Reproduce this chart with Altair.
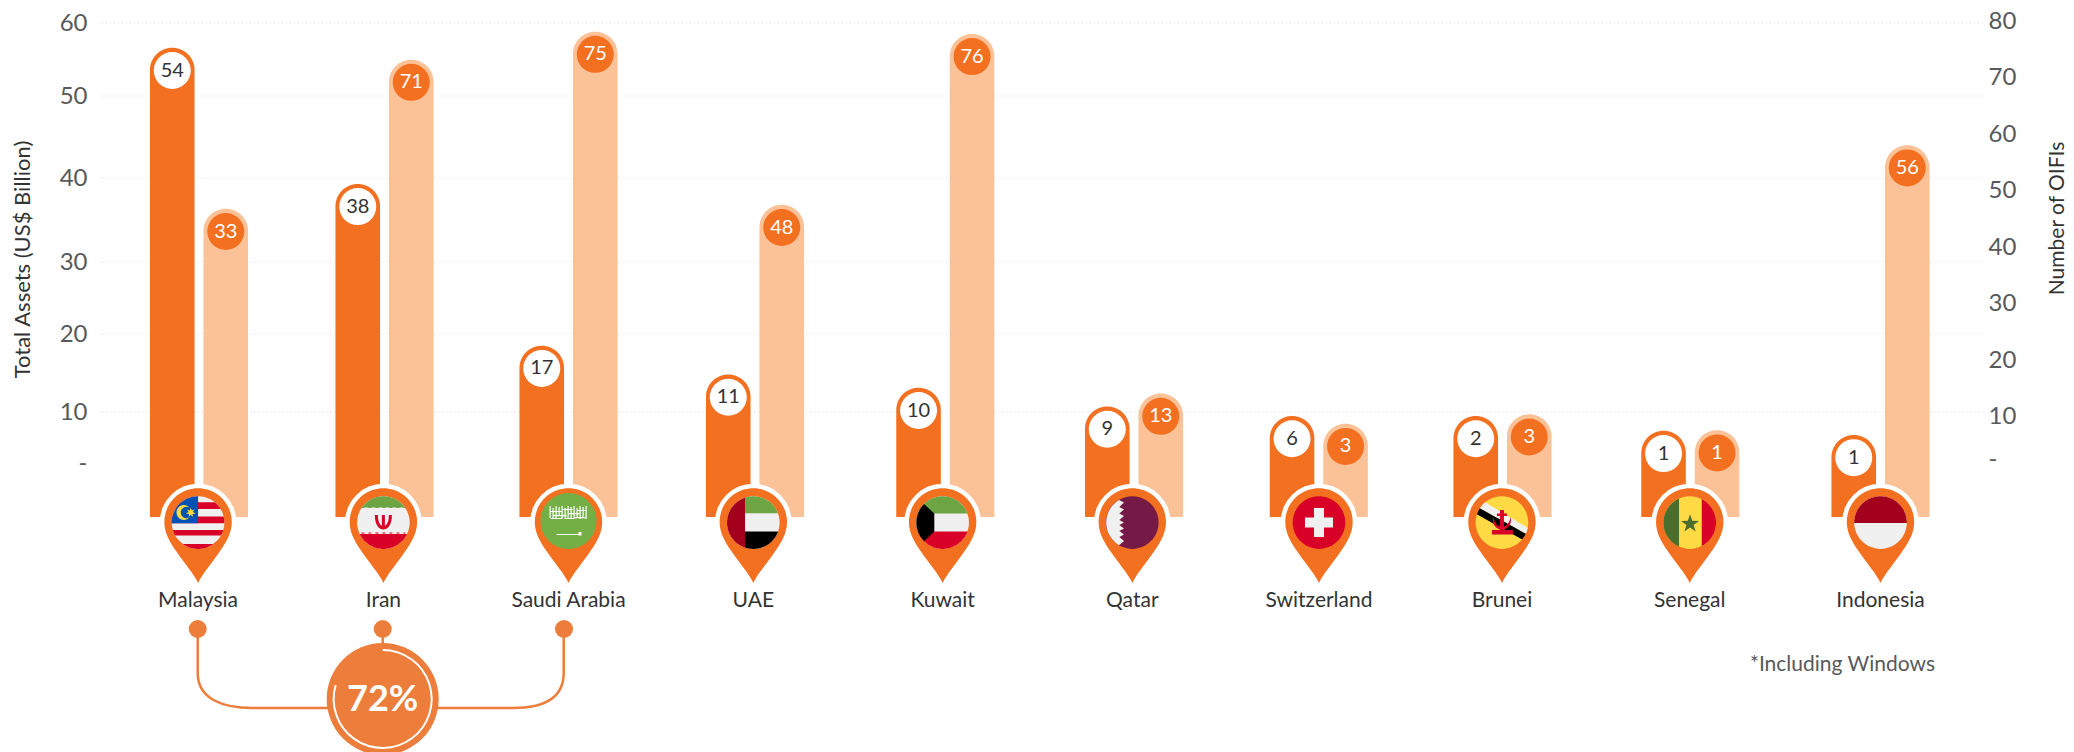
import math
import altair as alt
import pandas as pd

countries = ["Malaysia", "Iran", "Saudi Arabia", "UAE", "Kuwait", "Qatar", "Switzerland", "Brunei", "Senegal", "Indonesia"]
assets_labels = [54, 38, 17, 11, 10, 9, 6, 2, 1, 1]
oifi_labels = [33, 71, 75, 48, 76, 13, 3, 3, 1, 56]
# bar tops as read against the two drawn axes
assets_tops = [56.6, 39.3, 18.5, 14.8, 13.1, 10.7, 9.2, 9.2, 6.3, 5.5]
oifi_tops = [46.7, 73.1, 78.1, 47.4, 77.7, 14.0, 8.2, 10.3, 6.7, 58.0]
pin_nudge = [-0.005, -0.006, 0.0, -0.009, -0.014, -0.009, 0.001, -0.003, -0.003, 0.0]
left_ticks = [0, 10, 20, 30, 40, 50, 60]
right_ticks = [0, 10, 20, 30, 40, 50, 60, 70, 80]
grid_ticks = [10, 20, 30, 40, 50, 60]

ORANGE = "#F47021"
LIGHT = "#FBC197"
ACCENT = "#EC7D3A"
TEXT = "#58595B"
DARK = "#333333"
FONT = "Lato"
PLOT_LEFT, PLOT_TOP = 102, 23

left_scale = alt.Scale(domain=[-10.5] + left_ticks, range=[494, 440, 389, 311, 239, 155, 73, 0], nice=False, zero=False)
right_scale = alt.Scale(domain=[-13.5] + right_ticks, range=[494, 436, 393, 337, 280, 224, 167, 111, 54, -2], nice=False, zero=False)
x_scale = alt.Scale(domain=list(range(10)), nice=False, zero=False, padding=0,
                    range=[c - PLOT_LEFT for c in [199, 384.5, 568.5, 755, 945.3, 1134, 1318.8, 1502.5, 1690.3, 1880.5]])

table = pd.DataFrame({"i": range(10), "country": countries, "a": assets_tops, "o": oifi_tops,
                      "al": assets_labels, "ol": oifi_labels, "pin": [i + n for i, n in enumerate(pin_nudge)]})

# ---------- flag geometry (path units are pixels because size=4) ----------
def clip(pts, r=26.3, cy=0.6):
    out = []
    n = len(pts)
    for k in range(n):
        x0, y0 = pts[k]
        x1, y1 = pts[(k + 1) % n]
        steps = max(1, int(math.hypot(x1 - x0, y1 - y0) / 1.5))
        for s in range(steps):
            x = x0 + (x1 - x0) * s / steps
            y = y0 + (y1 - y0) * s / steps
            d = math.hypot(x, y)
            if d > r:
                x, y = x * r / d, y * r / d
            out.append((x, y + cy))
    return "M" + "L".join(f"{x:.1f},{y:.1f}" for x, y in out) + "Z"

def rect(x0, y0, x1, y1, **kw):
    return clip([(x0, y0), (x1, y0), (x1, y1), (x0, y1)], **kw)

def disc(r=26.3, cy=0.6):
    return f"M{-r},{cy}A{r},{r} 0 1 1 {r},{cy}A{r},{r} 0 1 1 {-r},{cy}Z"

def star(cx, cy, R, r, n=5):
    p = []
    for k in range(2 * n):
        a = -math.pi / 2 + k * math.pi / n
        q = R if k % 2 == 0 else r
        p.append(f"{cx + q * math.cos(a):.1f},{cy + q * math.sin(a):.1f}")
    return "M" + "L".join(p) + "Z"

WHITE, RED, GREEN, DRED, BLACK, YEL = "#F0F0F0", "#D80027", "#6DA544", "#A2001D", "#000000", "#FFDA44"
sg = "M-19,-16h1.2v12h-1.2zM-16,-14h1.2v10h-1.2zM-13,-16h1.2v13h-1.2zM-10,-15h1.2v9h-1.2zM-7,-16h1.2v13h-1.2zM-4,-14h1.2v11h-1.2z" \
     "M-1,-16h1.2v13h-1.2zM2,-15h1.2v12h-1.2zM5,-16h1.2v13h-1.2zM8,-14h1.2v10h-1.2zM11,-16h1.2v13h-1.2zM14,-15h1.2v11h-1.2zM17,-16h1.2v13h-1.2z" \
     "M-19,-11h12v1h-12zM-16,-7h14v1.2h-14zM-6,-13h10v1h-10zM0,-9h12v1.2h-12zM6,-5h12v1.2h-12zM8,-12h10v1h-10zM-18,-4h12v1h-12zM-3,-4h8v1h-8z"
flag_pieces = {
    0: [(disc(), WHITE), (rect(-30, -20.3, 30, -13.7), RED), (rect(-30, -6, 30, 0.7), RED), (rect(-30, 7.3, 30, 13), RED),
        (rect(-30, 21.3, 30, 30), RED), (rect(-30, -30, 0, 0.7), "#0052B4"),
        ("M-8.5,-14.5A7.5,7.5 0 1 0 -8.5,-4.5A5.8,5.8 0 1 1 -8.5,-14.5Z", YEL), (star(-7.3, -9.5, 5, 2.2, 7), YEL)],
    1: [(disc(), WHITE), (rect(-30, -30, 30, -15), GREEN), (rect(-30, 11.5, 30, 30), RED),
        ("M-8.5,-7H-5.5C-5.5,0.7 -3,3.2 -1.5,3.7V-7H1.5V3.7C3,3.2 5.5,0.7 5.5,-7H8.5C8.5,3.7 4,7.4 0,7.4C-4,7.4 -8.5,3.7 -8.5,-7Z", RED),
        ("M-22,-15h3v1h-3zM-15,-15h3v1h-3zM-8,-15h3v1h-3zM-1,-15h3v1h-3zM6,-15h3v1h-3zM13,-15h3v1h-3zM20,-15h2v1h-2z", GREEN),
        ("M-22,10.5h3v1h-3zM-15,10.5h3v1h-3zM-8,10.5h3v1h-3zM-1,10.5h3v1h-3zM6,10.5h3v1h-3zM13,10.5h3v1h-3zM20,10.5h2v1h-2z", RED)],
    2: [(disc(28, -1), "#73AF45"), (sg, "#FFFFFF"), ("M-12,12h22v-2h3v3.5h-3v-0.5h-22z", "#FFFFFF")],
    3: [(disc(), WHITE), (rect(-8.3, -30, 30, -9.3), GREEN), (rect(-8.3, 9, 30, 30), BLACK), (rect(-30, -30, -8.3, 30), DRED)],
    4: [(disc(), WHITE), (rect(-30, -30, 30, -9), GREEN), (rect(-30, 9, 30, 30), RED),
        ("M-18.6,-18L-8.3,-8.4V9.6L-18.6,19.2A26.3,26.3 0 0 1 -18.6,-18Z", BLACK)],
    5: [(disc(), "#751A46"),
        ("M-13.3,-22L-8.3,-19.5L-13,-15L-8.3,-12.5L-13,-8.5L-8.3,-6L-13,-2L-8.3,0.6L-13,3L-8.3,6.5L-13,9L-8.3,12.5L-13,15L-8.3,19L-13.3,23.2A26.3,26.3 0 0 1 -13.3,-22Z", WHITE)],
    6: [(disc(), RED), ("M-5,-14H5V-4.5H14V5.5H5V15H-5V5.5H-14V-4.5H-5Z", WHITE)],
    7: [(disc(), YEL), (clip([(-23, -24), (32, 9), (29, 14), (-27, -17)]), WHITE), (clip([(-27, -17), (29, 14), (26, 20), (-30, -11)]), BLACK),
        ("M-10,8H11V12.5H-10ZM-2,-12H2V8H-2ZM-5,-8.5H5V-6H-5Z", RED),
        ("M-8.5,-5C-11,3 -4,8 0,8C4,8 11,3 8.5,-5C8,1 4,5 0,5C-4,5 -8,1 -8.5,-5Z", RED)],
    8: [(disc(), YEL), (rect(-30, -30, -10.7, 30), "#496E2D"), (rect(12, -30, 30, 30), RED), (star(0.3, 1.8, 9.5, 3.8), "#496E2D")],
    9: [(disc(), WHITE), (rect(-30, -30, 30, 0.3), DRED)],
}
pieces = pd.DataFrame([{"pin": table.pin[i], "path": p, "fill": c} for i, ps in flag_pieces.items() for p, c in ps])

PIN = "M0,61C-4,52 -14,41 -22,29C-30,18 -33.7,9 -33.7,0A33.7,33.7 0 1 1 33.7,0C33.7,9 30,18 22,29C14,41 4,52 0,61Z"
CONNECT = "M-185,-70V-26C-185,0 -160,9 -130,9H130C160,9 181,0 181,-26V-70M0,-70V-50"
RING = "M0,-49A49,49 0 1 1 -47,-14"

# ---------- chart layers ----------
base = alt.Chart(table)
Xn = alt.X("i:Q", scale=x_scale, axis=None)
BW = 44.6
OFF = 26.75
CIRCLE = 37 ** 2
NUM = 20

grid = alt.Chart(pd.DataFrame({"g": grid_ticks})).mark_rule(color="#D9D9D9", strokeDash=[1, 3], strokeWidth=1).encode(
    y=alt.Y("g:Q", scale=left_scale, axis=None))

orange_bar = base.mark_bar(size=BW, xOffset=-OFF, color=ORANGE, cornerRadiusTopLeft=22.3, cornerRadiusTopRight=22.3).encode(
    x=Xn,
    y=alt.Y("a:Q", scale=left_scale, stack=None, axis=alt.Axis(
        values=left_ticks, labelExpr="datum.value === 0 ? '-' : datum.label", grid=False, domain=False, ticks=False,
        labelPadding=15, labelFontSize=24, labelColor=TEXT, labelFont=FONT, labelBound=False, labelFlush=False,
        title="Total Assets (US$ Billion)", titleFontSize=22, titleFontWeight="normal", titleFont=FONT, titleColor=DARK,
        titleX=-79.5, titleY=236, titleAngle=270, titleAlign="center", titleBaseline="middle")),
    y2=alt.datum(-10.5))
orange_dot = base.mark_point(filled=True, opacity=1, shape="circle", size=CIRCLE, fill="#FFFFFF", strokeWidth=0, xOffset=-OFF, yOffset=22.7).encode(
    x=Xn, y=alt.Y("a:Q", scale=left_scale, axis=None))
orange_txt = base.mark_text(font=FONT, fontSize=NUM, color=DARK, xOffset=-OFF, yOffset=22.7, baseline="middle").encode(
    x=Xn, y=alt.Y("a:Q", scale=left_scale, axis=None), text="al:N")

light_bar = base.mark_bar(size=BW, xOffset=OFF, color=LIGHT, cornerRadiusTopLeft=22.3, cornerRadiusTopRight=22.3).encode(
    x=Xn,
    y=alt.Y("o:Q", scale=right_scale, stack=None, axis=alt.Axis(
        orient="right", values=right_ticks, labelExpr="datum.value === 0 ? '-' : datum.label", grid=False, domain=False, ticks=False,
        labelPadding=5, labelFontSize=24, labelColor=TEXT, labelFont=FONT, labelBound=False, labelFlush=False,
        title="Number of OIFIs", titleFontSize=21, titleFontWeight="normal", titleFont=FONT, titleColor=DARK,
        titleX=74, titleY=195, titleAngle=270, titleAlign="center", titleBaseline="middle")),
    y2=alt.datum(-13.5))
light_dot = base.mark_point(filled=True, opacity=1, shape="circle", size=CIRCLE, fill=ORANGE, strokeWidth=0, xOffset=OFF, yOffset=22.7).encode(
    x=Xn, y=alt.Y("o:Q", scale=right_scale, axis=None))
light_txt = base.mark_text(font=FONT, fontSize=NUM, color="#FFFFFF", xOffset=OFF, yOffset=22.7, baseline="middle").encode(
    x=Xn, y=alt.Y("o:Q", scale=right_scale, axis=None), text="ol:N")

PIN_Y = alt.value(522 - PLOT_TOP)
Xp = alt.X("pin:Q", scale=x_scale, axis=None)
halo = base.mark_point(filled=True, opacity=1, shape="circle", size=76.6 ** 2, fill="#FFFFFF", strokeWidth=0).encode(x=Xp, y=PIN_Y)
pins = base.mark_point(filled=True, opacity=1, shape=PIN, size=4, fill=ORANGE, strokeWidth=0).encode(x=Xp, y=PIN_Y)
flags = alt.Chart(pieces).mark_point(filled=True, opacity=1, size=4, strokeWidth=0).encode(
    x=Xp, y=PIN_Y, shape=alt.Shape("path:N", scale=None, legend=None), fill=alt.Fill("fill:N", scale=None, legend=None))
names = base.mark_text(font=FONT, fontSize=21, color=DARK, baseline="middle").encode(
    x=Xp, y=alt.value(601 - PLOT_TOP), text="country:N")

CX = 382.7 - PLOT_LEFT
CY = 699 - PLOT_TOP
one = alt.Chart(pd.DataFrame({"a": [1]}))
connector = one.mark_point(shape=CONNECT, size=4, filled=False, opacity=1, stroke=ACCENT, strokeWidth=2.5).encode(x=alt.value(CX), y=alt.value(CY))
dots = alt.Chart(pd.DataFrame({"px": [197.7 - PLOT_LEFT, CX, 564 - PLOT_LEFT]})).mark_point(
    filled=True, opacity=1, shape="circle", size=18 ** 2, fill=ACCENT, strokeWidth=0).encode(
    x=alt.X("px:Q", scale=None), y=alt.value(629 - PLOT_TOP))
big = one.mark_point(filled=True, opacity=1, shape="circle", size=112 ** 2, fill=ACCENT, strokeWidth=0).encode(x=alt.value(CX), y=alt.value(CY))
ring = one.mark_point(shape=RING, size=4, filled=False, opacity=1, stroke="#FFFFFF", strokeWidth=2).encode(x=alt.value(CX), y=alt.value(CY))
pct = one.mark_text(text="72%", font=FONT, fontSize=36, fontWeight="bold", color="#FFFFFF", baseline="middle").encode(x=alt.value(CX), y=alt.value(CY + 1))
note = one.mark_text(text="*Including Windows", font=FONT, fontSize=21, color=TEXT, align="right", baseline="middle").encode(
    x=alt.value(1935 - PLOT_LEFT), y=alt.value(665 - PLOT_TOP))

chart = alt.layer(
    grid, orange_bar, light_bar, orange_dot, light_dot, orange_txt, light_txt,
    halo, pins, flags, names, connector, dots, big, ring, pct, note
).resolve_scale(y="independent", x="shared").properties(
    width=1881, height=494,
    padding={"left": PLOT_LEFT - 8, "top": PLOT_TOP - 8, "right": 83, "bottom": 235},
    autosize=alt.AutoSizeParams(type="none"),
    background="#FFFFFF",
).configure_view(stroke=None)

chart.save("out.html", embed_options={"renderer": "svg", "actions": False})
